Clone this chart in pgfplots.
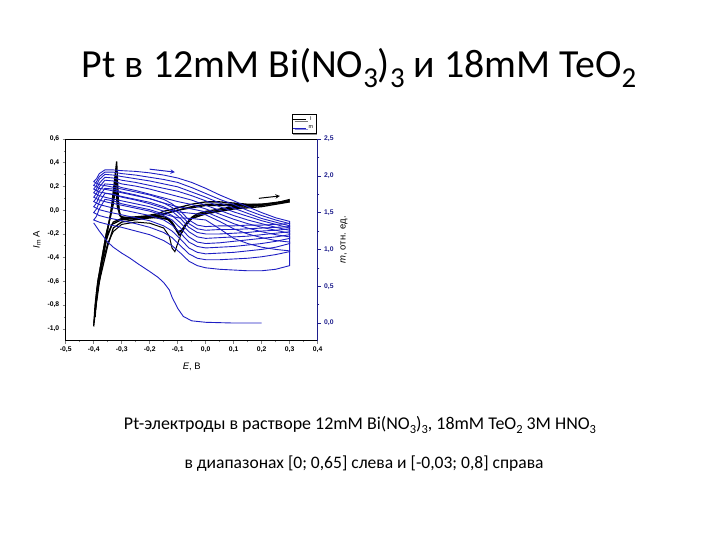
\documentclass[border=0pt]{standalone}
\usepackage{fontspec}
\setmainfont{Carlito}
\newfontfamily\arial{Liberation Sans}
\usepackage{pgfplots}
\pgfplotsset{compat=1.18}
\usetikzlibrary{shadows}
\definecolor{mblue}{RGB}{30,30,195}
\definecolor{axblue}{RGB}{30,30,140}
\newcommand{\tsub}[1]{\raisebox{-0.25em}{\fontsize{29}{29}\selectfont #1}}
\newcommand{\csub}[1]{\raisebox{-0.2em}{\fontsize{12.5}{12.5}\selectfont #1}}
\pgfplotsset{myax/.style={
  width=252bp, height=201.7bp, scale only axis,
  at={(65.7bp,199.3bp)}, anchor=south west,
  xmin=-0.5, xmax=0.4,
  ticklabel style={font=\arial\bfseries\fontsize{6.8}{7.5}\selectfont},
  label style={font=\arial\fontsize{9.5}{10}\selectfont},
  tick align=outside,
  major tick length=3bp, minor tick length=1.8bp,
  tick style={line width=0.6pt},
  /pgf/number format/.cd, use comma, fixed, fixed zerofill, precision=1, assume math mode=true}}
\begin{document}
\begin{tikzpicture}
\useasboundingbox (0,0) rectangle (720bp,540bp);
\node[font=\fontsize{40}{44}\selectfont] at (359bp,472bp) {Pt в 12mM Bi(NO\tsub{3})\tsub{3} и 18mM TeO\tsub{2}};
\node[font=\fontsize{18}{20}\selectfont] at (360bp,115bp) {Pt-электроды в растворе 12mM Bi(NO\csub{3})\csub{3}, 18mM TeO\csub{2} 3M HNO\csub{3}};
\node[font=\fontsize{17.6}{20}\selectfont] at (364bp,76bp) {в диапазонах [0; 0,65] слева и [-0,03; 0,8] справа};

\begin{axis}[myax,
  ymin=-1.1, ymax=0.6,
  xtick={-0.5,-0.4,-0.3,-0.2,-0.1,0,0.1,0.2,0.3,0.4},
  ytick={-1.0,-0.8,-0.6,-0.4,-0.2,0,0.2,0.4,0.6},
  minor x tick num=1, minor y tick num=1,
  xtick pos=left, ytick pos=left,
  axis line style={line width=0.8pt},
  xlabel={\textit{E}, В},
  xlabel style={yshift=-3bp},
  ylabel={\textit{I}\textsubscript{m}\,A},
  legend style={at={(0.897,1.028)}, anchor=south west, draw=black, fill=white,
    font=\arial\fontsize{5.5}{6}\selectfont, inner sep=0.8pt, row sep=-0.5pt,
    drop shadow={shadow xshift=1.5bp, shadow yshift=-1.5bp, fill=black!85}},
  legend image code/.code={\draw[#1] (0bp,0bp) -- (13bp,0bp);},
]
\addlegendimage{black, line width=0.9pt}\addlegendentry{I}
\addlegendimage{mblue, line width=0.9pt}\addlegendentry{m}
% black current curves
\addplot[black, line width=1.3pt] coordinates {(0.3,0.09) (0.25,0.06) (0.2,0.05) (0.15,0.04) (0.1,0.03) (0.05,0.01) (0,-0.01) (-0.03,-0.03) (-0.05,-0.06) (-0.07,-0.12) (-0.085,-0.19) (-0.095,-0.21) (-0.105,-0.17) (-0.12,-0.1) (-0.14,-0.06) (-0.17,-0.05) (-0.2,-0.05) (-0.25,-0.06) (-0.3,-0.07) (-0.33,-0.1) (-0.35,-0.2) (-0.365,-0.35) (-0.38,-0.55) (-0.39,-0.75) (-0.4,-0.98) (-0.395,-0.8) (-0.385,-0.6) (-0.37,-0.4) (-0.355,-0.2) (-0.34,-0.05) (-0.328,0.2) (-0.318,0.41) (-0.312,0.1) (-0.308,-0.04) (-0.3,-0.06) (-0.27,-0.06) (-0.22,-0.05) (-0.17,-0.03) (-0.15,-0.01) (-0.1,0.02) (-0.05,0.05) (0,0.07) (0.05,0.07) (0.1,0.06) (0.15,0.05) (0.2,0.05) (0.25,0.06) (0.3,0.09)};
\addplot[black, line width=1.3pt] coordinates {(0.3,0.08) (0.2,0.04) (0.1,0.02) (0,-0.02) (-0.04,-0.05) (-0.07,-0.11) (-0.085,-0.17) (-0.1,-0.18) (-0.115,-0.12) (-0.14,-0.07) (-0.2,-0.06) (-0.25,-0.07) (-0.3,-0.08) (-0.335,-0.12) (-0.355,-0.25) (-0.37,-0.45) (-0.385,-0.65) (-0.395,-0.85) (-0.39,-0.7) (-0.375,-0.5) (-0.36,-0.3) (-0.345,-0.1) (-0.33,0.1) (-0.32,0.3) (-0.313,0.05) (-0.305,-0.05) (-0.28,-0.07) (-0.22,-0.06) (-0.16,-0.04) (-0.1,0.0) (-0.05,0.03) (0,0.05) (0.1,0.05) (0.2,0.04) (0.3,0.08)};
\addplot[black, line width=1.3pt] coordinates {(0.3,0.07) (0.2,0.03) (0.1,0.01) (0,-0.03) (-0.05,-0.07) (-0.08,-0.15) (-0.095,-0.19) (-0.11,-0.15) (-0.13,-0.08) (-0.18,-0.06) (-0.25,-0.08) (-0.3,-0.1) (-0.33,-0.15) (-0.35,-0.3) (-0.37,-0.5) (-0.39,-0.7) (-0.385,-0.6) (-0.37,-0.4) (-0.355,-0.2) (-0.34,-0.05) (-0.33,0.05) (-0.322,0.2) (-0.315,0.02) (-0.3,-0.07) (-0.25,-0.07) (-0.2,-0.06) (-0.15,-0.03) (-0.1,0.0) (-0.05,0.02) (0,0.04) (0.1,0.04) (0.2,0.05) (0.3,0.08)};
\addplot[black, line width=1.3pt] coordinates {(-0.395,-0.9) (-0.392,-0.8) (-0.388,-0.7) (-0.382,-0.6) (-0.375,-0.5) (-0.368,-0.4) (-0.36,-0.3) (-0.352,-0.2)};
\addplot[black, line width=1pt] coordinates {(0.05,-0.01) (0,-0.03) (-0.05,-0.07) (-0.08,-0.15) (-0.1,-0.28) (-0.11,-0.35) (-0.12,-0.32) (-0.13,-0.22) (-0.15,-0.15) (-0.2,-0.11) (-0.25,-0.1) (-0.3,-0.12) (-0.33,-0.18) (-0.35,-0.28) (-0.37,-0.45) (-0.385,-0.7) (-0.4,-0.95)};
\addplot[black, line width=1pt, -stealth] coordinates {(0.19,0.10) (0.265,0.12)};
\end{axis}

\begin{axis}[myax,
  ymin=-0.24, ymax=2.5,
  axis x line=none, axis y line*=right,
  ytick={0,0.5,1.0,1.5,2.0,2.5},
  minor y tick num=1,
  y axis line style={axblue, line width=1pt},
  ytick style={axblue},
  yticklabel style={axblue},
  ylabel={\textit{m}, отн. ед.},
]
\addplot[mblue, line width=0.9pt] coordinates {(-0.39,1.96) (-0.38,2.03) (-0.36,2.08) (-0.33,2.08) (-0.3,2.07) (-0.25,2.06) (-0.2,2.04) (-0.15,2.01) (-0.1,1.97) (-0.05,1.91) (0,1.83) (0.05,1.74) (0.1,1.66) (0.15,1.58) (0.2,1.50) (0.25,1.43) (0.3,1.38) (0.3,1.35) (0.25,1.34) (0.2,1.33) (0.15,1.33) (0.1,1.32) (0.05,1.32) (0,1.31) (-0.03,1.33) (-0.06,1.40) (-0.09,1.52) (-0.12,1.62) (-0.15,1.68) (-0.2,1.74) (-0.25,1.78) (-0.3,1.82) (-0.35,1.86) (-0.38,1.88) (-0.4,1.92) (-0.39,1.96)};
\addplot[mblue, line width=0.9pt] coordinates {(-0.39,1.92) (-0.38,1.99) (-0.36,2.05) (-0.33,2.05) (-0.3,2.03) (-0.25,2.01) (-0.2,1.98) (-0.15,1.95) (-0.1,1.91) (-0.05,1.84) (0,1.76) (0.05,1.68) (0.1,1.61) (0.15,1.53) (0.2,1.46) (0.25,1.40) (0.3,1.35) (0.3,1.31) (0.25,1.30) (0.2,1.29) (0.15,1.28) (0.1,1.27) (0.05,1.27) (0,1.26) (-0.03,1.28) (-0.06,1.35) (-0.09,1.47) (-0.12,1.57) (-0.15,1.63) (-0.2,1.69) (-0.25,1.73) (-0.3,1.77) (-0.35,1.81) (-0.38,1.83) (-0.4,1.87) (-0.39,1.92)};
\addplot[mblue, line width=0.9pt] coordinates {(-0.39,1.87) (-0.38,1.95) (-0.36,2.02) (-0.33,2.01) (-0.3,1.99) (-0.25,1.96) (-0.2,1.93) (-0.15,1.89) (-0.1,1.85) (-0.05,1.78) (0,1.71) (0.05,1.63) (0.1,1.56) (0.15,1.49) (0.2,1.42) (0.25,1.37) (0.3,1.32) (0.3,1.28) (0.25,1.26) (0.2,1.25) (0.15,1.23) (0.1,1.22) (0.05,1.21) (0,1.21) (-0.03,1.23) (-0.06,1.30) (-0.09,1.42) (-0.12,1.52) (-0.15,1.58) (-0.2,1.64) (-0.25,1.68) (-0.3,1.72) (-0.35,1.76) (-0.38,1.78) (-0.4,1.82) (-0.39,1.87)};
\addplot[mblue, line width=0.9pt] coordinates {(-0.39,1.82) (-0.38,1.90) (-0.36,1.98) (-0.33,1.97) (-0.3,1.94) (-0.25,1.91) (-0.2,1.87) (-0.15,1.83) (-0.1,1.79) (-0.05,1.73) (0,1.66) (0.05,1.58) (0.1,1.51) (0.15,1.45) (0.2,1.39) (0.25,1.34) (0.3,1.29) (0.3,1.24) (0.25,1.22) (0.2,1.20) (0.15,1.18) (0.1,1.17) (0.05,1.16) (0,1.15) (-0.03,1.17) (-0.06,1.24) (-0.09,1.36) (-0.12,1.46) (-0.15,1.52) (-0.2,1.58) (-0.25,1.62) (-0.3,1.66) (-0.35,1.70) (-0.38,1.73) (-0.4,1.77) (-0.39,1.82)};
\addplot[mblue, line width=0.9pt] coordinates {(-0.39,1.76) (-0.38,1.85) (-0.36,1.94) (-0.33,1.93) (-0.3,1.89) (-0.25,1.86) (-0.2,1.82) (-0.15,1.77) (-0.1,1.72) (-0.05,1.67) (0,1.60) (0.05,1.53) (0.1,1.46) (0.15,1.40) (0.2,1.35) (0.25,1.30) (0.3,1.26) (0.3,1.20) (0.25,1.17) (0.2,1.15) (0.15,1.13) (0.1,1.11) (0.05,1.09) (0,1.08) (-0.03,1.10) (-0.06,1.17) (-0.09,1.29) (-0.12,1.40) (-0.15,1.46) (-0.2,1.52) (-0.25,1.56) (-0.3,1.60) (-0.35,1.64) (-0.38,1.67) (-0.4,1.71) (-0.39,1.76)};
\addplot[mblue, line width=0.9pt] coordinates {(-0.39,1.70) (-0.38,1.79) (-0.36,1.89) (-0.33,1.88) (-0.3,1.84) (-0.25,1.80) (-0.2,1.75) (-0.15,1.70) (-0.1,1.65) (-0.05,1.61) (0,1.55) (0.05,1.48) (0.1,1.41) (0.15,1.35) (0.2,1.30) (0.25,1.26) (0.3,1.22) (0.3,1.15) (0.25,1.11) (0.2,1.08) (0.15,1.06) (0.1,1.04) (0.05,1.03) (0,1.02) (-0.03,1.04) (-0.06,1.10) (-0.09,1.22) (-0.12,1.33) (-0.15,1.40) (-0.2,1.46) (-0.25,1.50) (-0.3,1.54) (-0.35,1.58) (-0.38,1.61) (-0.4,1.65) (-0.39,1.70)};
\addplot[mblue, line width=0.9pt] coordinates {(-0.39,1.63) (-0.38,1.72) (-0.36,1.83) (-0.33,1.82) (-0.3,1.78) (-0.25,1.74) (-0.2,1.69) (-0.15,1.63) (-0.1,1.58) (-0.05,1.55) (0,1.51) (0.05,1.43) (0.1,1.35) (0.15,1.29) (0.2,1.24) (0.25,1.20) (0.3,1.17) (0.3,1.08) (0.25,1.03) (0.2,1.00) (0.15,0.98) (0.1,0.96) (0.05,0.95) (0,0.94) (-0.03,0.96) (-0.06,1.02) (-0.09,1.14) (-0.12,1.25) (-0.15,1.32) (-0.2,1.39) (-0.25,1.43) (-0.3,1.47) (-0.35,1.51) (-0.38,1.54) (-0.4,1.58) (-0.39,1.63)};
\addplot[mblue, line width=0.9pt] coordinates {(-0.39,1.55) (-0.38,1.64) (-0.36,1.76) (-0.33,1.75) (-0.3,1.71) (-0.25,1.67) (-0.2,1.62) (-0.15,1.56) (-0.1,1.51) (-0.05,1.49) (0,1.47) (0.05,1.38) (0.1,1.28) (0.15,1.21) (0.2,1.16) (0.25,1.12) (0.3,1.10) (0.3,0.97) (0.25,0.93) (0.2,0.90) (0.15,0.88) (0.1,0.87) (0.05,0.86) (0,0.86) (-0.03,0.88) (-0.06,0.94) (-0.09,1.05) (-0.12,1.16) (-0.15,1.23) (-0.2,1.30) (-0.25,1.35) (-0.3,1.39) (-0.35,1.43) (-0.38,1.46) (-0.4,1.50) (-0.39,1.55)};
\addplot[mblue, line width=0.9pt] coordinates {(-0.39,1.45) (-0.38,1.55) (-0.36,1.68) (-0.33,1.66) (-0.3,1.62) (-0.25,1.58) (-0.2,1.54) (-0.15,1.48) (-0.1,1.43) (-0.05,1.42) (0,1.40) (0.05,1.28) (0.1,1.15) (0.15,1.08) (0.2,1.03) (0.25,1.00) (0.3,0.98) (0.3,0.78) (0.25,0.73) (0.2,0.71) (0.15,0.71) (0.1,0.72) (0.05,0.73) (0,0.75) (-0.03,0.78) (-0.06,0.84) (-0.09,0.95) (-0.12,1.05) (-0.15,1.12) (-0.2,1.20) (-0.25,1.25) (-0.3,1.30) (-0.35,1.34) (-0.38,1.37) (-0.4,1.40) (-0.39,1.45)};
\addplot[mblue, line width=0.9pt] coordinates {(-0.4,1.36) (-0.38,1.25) (-0.35,1.10) (-0.33,1.03) (-0.3,0.95) (-0.27,0.88) (-0.24,0.80) (-0.2,0.70) (-0.17,0.62) (-0.15,0.55) (-0.13,0.45) (-0.12,0.35) (-0.1,0.20) (-0.08,0.09) (-0.05,0.03) (0,0.01) (0.1,0.0) (0.2,0.0)};
\addplot[mblue, line width=1pt, -stealth] coordinates {(-0.2,2.09) (-0.11,2.05)};
\end{axis}
\end{tikzpicture}
\end{document}
